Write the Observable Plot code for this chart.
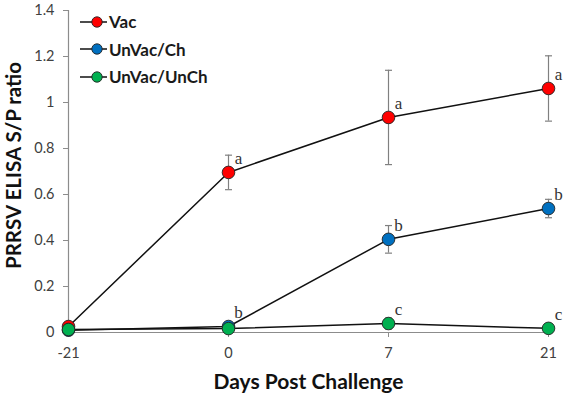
<!DOCTYPE html>
<html>
<head>
<meta charset="utf-8">
<script src="https://cdn.jsdelivr.net/npm/d3@7"></script>
<script src="https://cdn.jsdelivr.net/npm/@observablehq/plot@0.6"></script>
<style>
  html, body { margin: 0; padding: 0; background: #fff; }
  #wrap { position: relative; width: 567px; height: 397px; font-family: Lato, "Open Sans", sans-serif; }
  #legend { position: absolute; left: 80px; top: 8px; }
  .item { display: flex; align-items: center; height: 27.5px; font-weight: bold; font-size: 17px; color: #1a1a1a; }
  .item svg { margin-right: 1px; }
</style>
</head>
<body>
<div id="wrap"><div id="legend"></div></div>
<script>
// ---- data ----
const days = ["-21", "0", "7", "21"];
const seriesNames = ["Vac", "UnVac/Ch", "UnVac/UnCh"];
const seriesColors = ["#ff0000", "#0070c0", "#00b050"];
const vacValues = [0.026, 0.696, 0.935, 1.061];
const vacErrors = [0.008, 0.075, 0.205, 0.142];
const vacLetters = ["", "a", "a", "a"];
const chValues = [0.010, 0.026, 0.405, 0.539];
const chErrors = [0.004, 0.008, 0.060, 0.040];
const chLetters = ["", "b", "b", "b"];
const unchValues = [0.013, 0.017, 0.039, 0.018];
const unchErrors = [0.004, 0.006, 0.024, 0.014];
const unchLetters = ["", "", "c", "c"];
const yTicks = [0, 0.2, 0.4, 0.6, 0.8, 1, 1.2, 1.4];

const valueSets = [vacValues, chValues, unchValues];
const errorSets = [vacErrors, chErrors, unchErrors];
const letterSets = [vacLetters, chLetters, unchLetters];

const rows = [];
seriesNames.forEach((s, i) => {
  days.forEach((d, j) => {
    rows.push({series: s, day: d, value: valueSets[i][j],
      lo: valueSets[i][j] - errorSets[i][j], hi: valueSets[i][j] + errorSets[i][j],
      letter: letterSets[i][j]});
  });
});

const cap = { draw(ctx) { ctx.moveTo(-3.5, 0); ctx.lineTo(3.5, 0); } };
const errColor = "#808080";

const chart = Plot.plot({
  width: 567,
  height: 397,
  marginLeft: 68,
  marginRight: 19,
  marginTop: 10,
  marginBottom: 65,
  style: { fontFamily: "Lato, 'Open Sans', sans-serif", background: "white", overflow: "visible" },
  x: { type: "point", domain: days, padding: 0 },
  y: { domain: [0, 1.4] },
  color: { domain: seriesNames, range: seriesColors },
  marks: [
    Plot.axisY({ ticks: yTicks, tickSize: 5, tickPadding: 9, fontSize: 14.5, color: "#404040", stroke: "#8c8c8c",
      tickFormat: d => String(+d.toFixed(1)), label: null }),
    Plot.axisX({ tickSize: 5, tickPadding: 10, fontSize: 14.5, color: "#404040", stroke: "#8c8c8c", label: null }),
    Plot.ruleY([0], { stroke: "#8c8c8c", strokeWidth: 1.2 }),
    Plot.ruleX([days[0]], { stroke: "#8c8c8c", strokeWidth: 1.2 }),
    Plot.text(["PRRSV ELISA S/P ratio"], { frameAnchor: "left", textAnchor: "middle", lineAnchor: "middle", rotate: -90, dx: -54, dy: -6, fontSize: 20.5, fontWeight: "bold", fill: "#111" }),
    Plot.text(["Days Post Challenge"], { frameAnchor: "bottom", textAnchor: "middle", dy: 56, fontSize: 21, fontWeight: "bold", fill: "#111", lineAnchor: "bottom" }),
    Plot.line(rows, { x: "day", y: "value", z: "series", stroke: "#111", strokeWidth: 1.5 }),
    Plot.ruleX(rows, { x: "day", y1: "lo", y2: "hi", stroke: errColor, strokeWidth: 1.2 }),
    Plot.dot(rows, { x: "day", y: "hi", symbol: cap, stroke: errColor, strokeWidth: 1.2, fill: "none" }),
    Plot.dot(rows, { x: "day", y: "lo", symbol: cap, stroke: errColor, strokeWidth: 1.2, fill: "none" }),
    Plot.dot(rows, { x: "day", y: "value", fill: "series", r: 6.3, stroke: "#222", strokeWidth: 0.9 }),
    Plot.text(rows.filter(r => r.letter), { x: "day", y: "value", text: "letter", dx: 10, dy: -14,
      fontFamily: "'Liberation Serif', 'DejaVu Serif', serif", fontSize: 17, fill: "#333" })
  ]
});
const wrap = document.getElementById("wrap");
wrap.insertBefore(chart, wrap.firstChild);

// legend
const legend = document.getElementById("legend");
seriesNames.forEach((s, i) => {
  const item = document.createElement("div");
  item.className = "item";
  item.innerHTML = `<svg width="28" height="14"><line x1="0" y1="7" x2="27" y2="7" stroke="#111" stroke-width="1.5"/><circle cx="17" cy="7" r="5.2" fill="${seriesColors[i]}" stroke="#222" stroke-width="0.9"/></svg><span>${s}</span>`;
  legend.appendChild(item);
});
</script>
</body>
</html>
